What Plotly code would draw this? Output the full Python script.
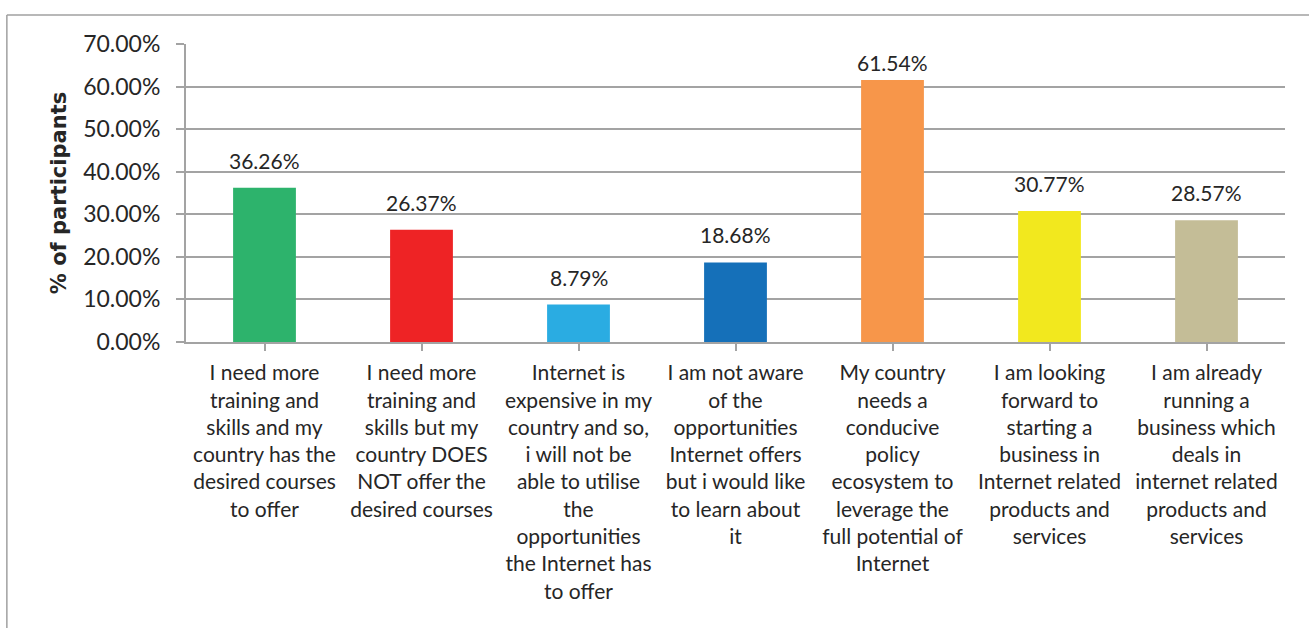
import plotly.graph_objects as go

categories = [
    "I need more<br>training and<br>skills and my<br>country has the<br>desired courses<br>to offer",
    "I need more<br>training and<br>skills but my<br>country DOES<br>NOT offer the<br>desired courses",
    "Internet is<br>expensive in my<br>country and so,<br>i will not be<br>able to utilise<br>the<br>opportunities<br>the Internet has<br>to offer",
    "I am not aware<br>of the<br>opportunities<br>Internet offers<br>but i would like<br>to learn about<br>it",
    "My country<br>needs a<br>conducive<br>policy<br>ecosystem to<br>leverage the<br>full potential of<br>Internet",
    "I am looking<br>forward to<br>starting a<br>business in<br>Internet related<br>products and<br>services",
    "I am already<br>running a<br>business which<br>deals in<br>internet related<br>products and<br>services",
]
values = [36.26, 26.37, 8.79, 18.68, 61.54, 30.77, 28.57]
bar_colors = ["#2DB36C", "#EE2325", "#2AACE2", "#1570B9", "#F7964A", "#F2E81E", "#C4BD97"]
y_ticks = [0, 10, 20, 30, 40, 50, 60, 70]
y_max = 70

FONT = "Lato"
TEXT = "#262626"
GRID = "#A3A3A3"

xs = list(range(len(categories)))

fig = go.Figure(
    go.Bar(
        x=xs,
        y=values,
        marker=dict(color=bar_colors, line=dict(width=0)),
        hoverinfo="skip",
    )
)

# value labels above each bar; a label near the top of the axis is tucked closer to its bar
annotations = []
for x, v in zip(xs, values):
    annotations.append(
        dict(
            x=x, y=v, xref="x", yref="y",
            text=f"{v:.2f}%",
            showarrow=False,
            yanchor="bottom",
            yshift=13 if (y_max - v) > 10 else 3,
            font=dict(family=FONT, size=21, color=TEXT),
        )
    )

fig.update_layout(
    width=1309,
    height=628,
    margin=dict(l=186, r=24, t=44, b=286),
    paper_bgcolor="white",
    plot_bgcolor="white",
    bargap=0.6,
    showlegend=False,
    font=dict(family=FONT, color=TEXT),
    annotations=annotations,
    shapes=[
        # outer chart frame (top and left edges visible)
        dict(type="line", xref="paper", yref="paper", x0=-0.163, x1=1.1, y0=1.097, y1=1.097,
             line=dict(color="#A0A0A0", width=1.5)),
        dict(type="line", xref="paper", yref="paper", x0=-0.163, x1=-0.163, y0=1.097, y1=-1.2,
             line=dict(color="#A0A0A0", width=1.5)),
    ],
)

fig.update_xaxes(
    tickmode="array",
    tickvals=xs,
    ticktext=categories,
    range=[-0.5, len(categories) - 0.5],
    showline=True,
    linecolor=GRID,
    linewidth=2,
    ticks="outside",
    ticklen=7,
    tickcolor=GRID,
    tickwidth=2,
    tickson="boundaries",
    tickangle=0,
    showgrid=False,
    ticklabelstandoff=4,
    tickfont=dict(family=FONT, size=21, color=TEXT),
)

fig.update_yaxes(
    range=[0, y_max],
    tickmode="array",
    tickvals=y_ticks,
    ticktext=[f"{t:.2f}%" for t in y_ticks],
    showline=True,
    linecolor=GRID,
    linewidth=2,
    ticks="outside",
    ticklen=8,
    tickcolor=GRID,
    tickwidth=2,
    showgrid=True,
    gridcolor=GRID,
    gridwidth=2,
    zeroline=False,
    tickfont=dict(family=FONT, size=23, color=TEXT),
    ticklabelstandoff=11,
    title=dict(text="<b>% of participants</b>",
               font=dict(family="DejaVu Sans", size=21, color=TEXT), standoff=11),
)

fig.write_html("out.html")
